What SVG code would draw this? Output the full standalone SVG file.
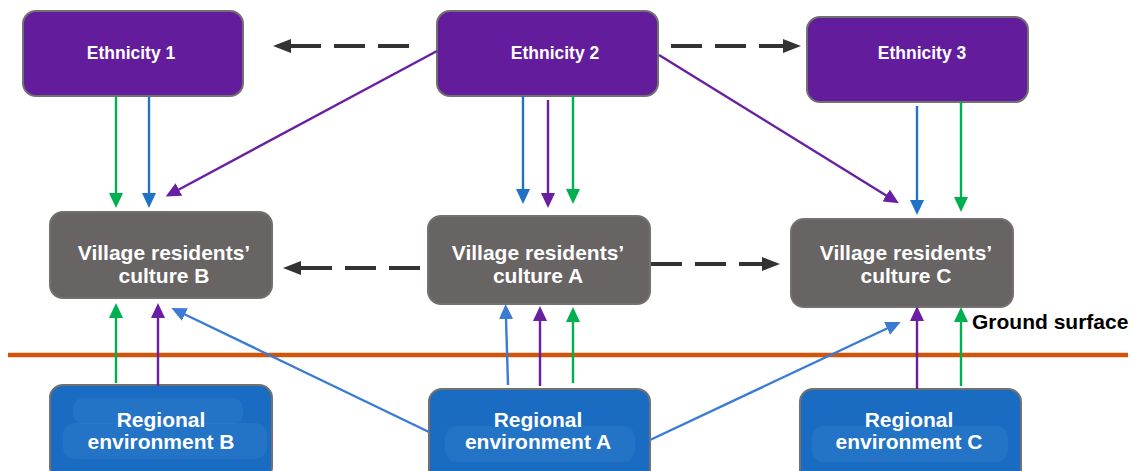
<svg xmlns="http://www.w3.org/2000/svg" width="1133" height="471" viewBox="0 0 1133 471">
  <style>
    .box { stroke: #737070; stroke-width: 2; }
    .eth { fill: #621c9c; }
    .vil { fill: #686464; }
    .reg { fill: #1a6cc2; }
    .tex { fill: #4a8fd6; opacity: 0.2; }
    .lbl { font-family: "Liberation Sans", Arial, sans-serif; font-weight: bold; fill: #ffffff; text-anchor: middle; }
    .e { font-size: 17.5px; }
    .v { font-size: 21px; }
    .ln { fill: none; stroke-width: 2.4; }
    .g { stroke: #00b050; }
    .b { stroke: #1f72c6; }
    .bl { stroke: #3a7bd5; }
    .p { stroke: #6a1fa2; }
    .d { fill: none; stroke: #333333; stroke-width: 4; stroke-dasharray: 31 13; }
  </style>
  <defs>
    <marker id="hg" viewBox="0 0 15 14" markerUnits="userSpaceOnUse" markerWidth="15" markerHeight="14" refX="1" refY="7" orient="auto"><path d="M0,0 L15,7 L0,14 z" fill="#00b050"/></marker>
    <marker id="hb" viewBox="0 0 15 14" markerUnits="userSpaceOnUse" markerWidth="15" markerHeight="14" refX="1" refY="7" orient="auto"><path d="M0,0 L15,7 L0,14 z" fill="#1f72c6"/></marker>
    <marker id="hl" viewBox="0 0 15 14" markerUnits="userSpaceOnUse" markerWidth="15" markerHeight="14" refX="1" refY="7" orient="auto"><path d="M0,0 L15,7 L0,14 z" fill="#3a7bd5"/></marker>
    <marker id="hp" viewBox="0 0 15 14" markerUnits="userSpaceOnUse" markerWidth="15" markerHeight="14" refX="1" refY="7" orient="auto"><path d="M0,0 L15,7 L0,14 z" fill="#6a1fa2"/></marker>
    <marker id="hd" viewBox="0 0 18 14" markerUnits="userSpaceOnUse" markerWidth="18" markerHeight="14" refX="1" refY="7" orient="auto"><path d="M0,0 L18,7 L0,14 z" fill="#333333"/></marker>
  </defs>

  <rect width="1133" height="471" fill="#ffffff"/>

  <!-- ground surface line -->
  <line x1="8" y1="355" x2="1128" y2="355" stroke="#d1550a" stroke-width="4.5"/>
  <text x="972" y="329" font-family="Liberation Sans, Arial, sans-serif" font-weight="bold" font-size="21" fill="#000000">Ground surface</text>

  <!-- ethnicity nodes -->
  <g id="ethnicity1">
    <rect class="box eth" x="23" y="11" width="220" height="85" rx="13"/>
    <text class="lbl e" x="131" y="59">Ethnicity 1</text>
  </g>
  <g id="ethnicity2">
    <rect class="box eth" x="437" y="11" width="221" height="85" rx="13"/>
    <text class="lbl e" x="555" y="59">Ethnicity 2</text>
  </g>
  <g id="ethnicity3">
    <rect class="box eth" x="807" y="17" width="221" height="85" rx="13"/>
    <text class="lbl e" x="922" y="59">Ethnicity 3</text>
  </g>

  <!-- village culture nodes -->
  <g id="cultureB">
    <rect class="box vil" x="50" y="212" width="222" height="86" rx="13"/>
    <text class="lbl v" x="164" y="260">Village residents’</text>
    <text class="lbl v" x="164" y="283">culture B</text>
  </g>
  <g id="cultureA">
    <rect class="box vil" x="428" y="216" width="222" height="88" rx="13"/>
    <text class="lbl v" x="538" y="260">Village residents’</text>
    <text class="lbl v" x="538" y="283">culture A</text>
  </g>
  <g id="cultureC">
    <rect class="box vil" x="791" y="219" width="222" height="88" rx="13"/>
    <text class="lbl v" x="906" y="260">Village residents’</text>
    <text class="lbl v" x="906" y="283">culture C</text>
  </g>

  <!-- regional environment nodes -->
  <g id="regionB">
    <rect class="box reg" x="50" y="385" width="222" height="95" rx="13"/>
    <rect class="tex" x="73" y="398" width="170" height="26" rx="10"/>
    <rect class="tex" x="63" y="423" width="204" height="36" rx="12"/>
    <text class="lbl v" x="161" y="427">Regional</text>
    <text class="lbl v" x="161" y="449">environment B</text>
  </g>
  <g id="regionA">
    <rect class="box reg" x="429" y="389" width="221" height="95" rx="13"/>
    <rect class="tex" x="445" y="426" width="190" height="36" rx="12"/>
    <text class="lbl v" x="538" y="427">Regional</text>
    <text class="lbl v" x="538" y="449">environment A</text>
  </g>
  <g id="regionC">
    <rect class="box reg" x="800" y="389" width="221" height="95" rx="13"/>
    <rect class="tex" x="812" y="426" width="196" height="36" rx="12"/>
    <text class="lbl v" x="909" y="427">Regional</text>
    <text class="lbl v" x="909" y="449">environment C</text>
  </g>

  <!-- connectors -->
  <g id="connectors">
    <!-- ethnicity influences on village cultures -->
    <path class="ln g" d="M116,97 V194" marker-end="url(#hg)"/>
    <path class="ln b" d="M149,97 V194" marker-end="url(#hb)"/>
    <path class="ln p" d="M437,51 L178,190" marker-end="url(#hp)"/>
    <path class="ln b" d="M523,96 V190" marker-end="url(#hb)"/>
    <path class="ln p" d="M548,100 V194" marker-end="url(#hp)"/>
    <path class="ln g" d="M573,96 V190" marker-end="url(#hg)"/>
    <path class="ln p" d="M659,55 L887,196" marker-end="url(#hp)"/>
    <path class="ln b" d="M917,106 V201" marker-end="url(#hb)"/>
    <path class="ln g" d="M961,102 V198" marker-end="url(#hg)"/>

    <!-- regional environment influences on village cultures -->
    <path class="ln g" d="M116,383 V317" marker-end="url(#hg)"/>
    <path class="ln p" d="M158,386 V317" marker-end="url(#hp)"/>
    <path class="ln bl" d="M429,432 L184,314" marker-end="url(#hl)"/>
    <path class="ln bl" d="M508,385 L506,318" marker-end="url(#hl)"/>
    <path class="ln p" d="M540,386 V320" marker-end="url(#hp)"/>
    <path class="ln g" d="M573,383 V321" marker-end="url(#hg)"/>
    <path class="ln bl" d="M650,440 L888,328" marker-end="url(#hl)"/>
    <path class="ln p" d="M917,389 V320" marker-end="url(#hp)"/>
    <path class="ln g" d="M961,386 V321" marker-end="url(#hg)"/>

    <!-- dashed spread arrows -->
    <path class="d" d="M409,46 H290" marker-end="url(#hd)"/>
    <path class="d" d="M671,46 H784" marker-end="url(#hd)"/>
    <path class="d" d="M420,268 H300" marker-end="url(#hd)"/>
    <path class="d" d="M651,264 H763" marker-end="url(#hd)"/>
  </g>
</svg>
